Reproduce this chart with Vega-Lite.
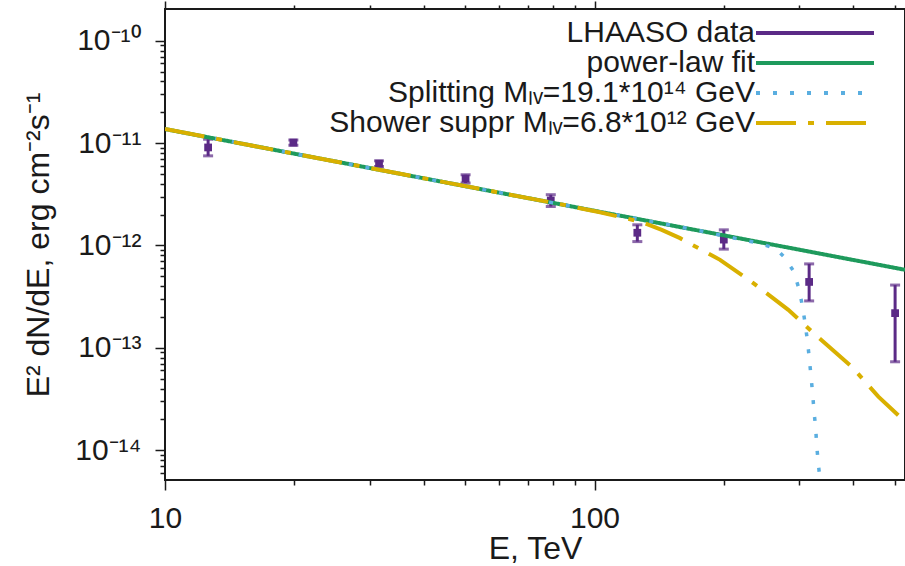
{
  "$schema": "https://vega.github.io/schema/vega-lite/v6.json",
  "width": 740,
  "height": 471,
  "autosize": "none",
  "padding": {"left": 165, "top": 9, "right": 0, "bottom": 86},
  "background": "white",
  "config": {
    "view": {"stroke": "#1a1a1a", "strokeWidth": 2},
    "font": "Liberation Sans",
    "axis": {
      "labelFont": "Liberation Sans",
      "titleFont": "Liberation Sans",
      "labelColor": "#1a1a1a",
      "titleColor": "#1a1a1a",
      "tickColor": "#1a1a1a",
      "domainColor": "#1a1a1a",
      "domainWidth": 2,
      "tickWidth": 1.5,
      "grid": false,
      "labelFontSize": 30,
      "titleFontSize": 32,
      "titleFontWeight": "normal"
    }
  },
  "datasets": {
    "lhaaso": [
      {"series": "LHAASO data", "E": 12.6, "flux": 9.06e-12, "lo": 7.5e-12, "hi": 1.09e-11},
      {"series": "LHAASO data", "E": 19.9, "flux": 1.01e-11, "lo": 9.5e-12, "hi": 1.07e-11},
      {"series": "LHAASO data", "E": 31.5, "flux": 6.3e-12, "lo": 5.9e-12, "hi": 6.7e-12},
      {"series": "LHAASO data", "E": 50.1, "flux": 4.5e-12, "lo": 4.07e-12, "hi": 4.9e-12},
      {"series": "LHAASO data", "E": 79.1, "flux": 2.75e-12, "lo": 2.4e-12, "hi": 3.13e-12},
      {"series": "LHAASO data", "E": 125.8, "flux": 1.33e-12, "lo": 1.09e-12, "hi": 1.59e-12},
      {"series": "LHAASO data", "E": 200, "flux": 1.14e-12, "lo": 9.2e-13, "hi": 1.42e-12},
      {"series": "LHAASO data", "E": 316, "flux": 4.4e-13, "lo": 2.87e-13, "hi": 6.6e-13},
      {"series": "LHAASO data", "E": 501, "flux": 2.18e-13, "lo": 7.3e-14, "hi": 4.1e-13}
    ],
    "curves": [
      {"series": "power-law fit", "E": 10, "flux": 1.37e-11},
      {"series": "power-law fit", "E": 100, "flux": 2.18e-12},
      {"series": "power-law fit", "E": 528.3, "flux": 5.78e-13},
      {"series": "Splitting Mₗᵥ=19.1*10¹⁴ GeV", "E": 10, "flux": 1.37e-11},
      {"series": "Splitting Mₗᵥ=19.1*10¹⁴ GeV", "E": 176, "flux": 1.39e-12},
      {"series": "Splitting Mₗᵥ=19.1*10¹⁴ GeV", "E": 218.2, "flux": 1.147e-12},
      {"series": "Splitting Mₗᵥ=19.1*10¹⁴ GeV", "E": 242.9, "flux": 1.048e-12},
      {"series": "Splitting Mₗᵥ=19.1*10¹⁴ GeV", "E": 264.6, "flux": 9.26e-13},
      {"series": "Splitting Mₗᵥ=19.1*10¹⁴ GeV", "E": 276.2, "flux": 7.74e-13},
      {"series": "Splitting Mₗᵥ=19.1*10¹⁴ GeV", "E": 290.4, "flux": 5.65e-13},
      {"series": "Splitting Mₗᵥ=19.1*10¹⁴ GeV", "E": 299.3, "flux": 3.77e-13},
      {"series": "Splitting Mₗᵥ=19.1*10¹⁴ GeV", "E": 305.0, "flux": 2.53e-13},
      {"series": "Splitting Mₗᵥ=19.1*10¹⁴ GeV", "E": 309.2, "flux": 1.74e-13},
      {"series": "Splitting Mₗᵥ=19.1*10¹⁴ GeV", "E": 313.3, "flux": 1.15e-13},
      {"series": "Splitting Mₗᵥ=19.1*10¹⁴ GeV", "E": 316.3, "flux": 7.87e-14},
      {"series": "Splitting Mₗᵥ=19.1*10¹⁴ GeV", "E": 319.2, "flux": 5.25e-14},
      {"series": "Splitting Mₗᵥ=19.1*10¹⁴ GeV", "E": 322.1, "flux": 3.52e-14},
      {"series": "Splitting Mₗᵥ=19.1*10¹⁴ GeV", "E": 324.4, "flux": 2.38e-14},
      {"series": "Splitting Mₗᵥ=19.1*10¹⁴ GeV", "E": 327.3, "flux": 1.64e-14},
      {"series": "Splitting Mₗᵥ=19.1*10¹⁴ GeV", "E": 329.1, "flux": 1.107e-14},
      {"series": "Splitting Mₗᵥ=19.1*10¹⁴ GeV", "E": 331.9, "flux": 7.45e-15},
      {"series": "Splitting Mₗᵥ=19.1*10¹⁴ GeV", "E": 335.0, "flux": 5.11e-15},
      {"series": "Splitting Mₗᵥ=19.1*10¹⁴ GeV", "E": 337.7, "flux": 3.26e-15},
      {"series": "Shower suppr Mₗᵥ=6.8*10¹² GeV", "E": 10, "flux": 1.37e-11},
      {"series": "Shower suppr Mₗᵥ=6.8*10¹² GeV", "E": 83.1, "flux": 2.53e-12},
      {"series": "Shower suppr Mₗᵥ=6.8*10¹² GeV", "E": 103.0, "flux": 2.11e-12},
      {"series": "Shower suppr Mₗᵥ=6.8*10¹² GeV", "E": 127.6, "flux": 1.71e-12},
      {"series": "Shower suppr Mₗᵥ=6.8*10¹² GeV", "E": 143.4, "flux": 1.42e-12},
      {"series": "Shower suppr Mₗᵥ=6.8*10¹² GeV", "E": 158.2, "flux": 1.178e-12},
      {"series": "Shower suppr Mₗᵥ=6.8*10¹² GeV", "E": 196.0, "flux": 7.23e-13},
      {"series": "Shower suppr Mₗᵥ=6.8*10¹² GeV", "E": 234.3, "flux": 4.28e-13},
      {"series": "Shower suppr Mₗᵥ=6.8*10¹² GeV", "E": 282.6, "flux": 2.35e-13},
      {"series": "Shower suppr Mₗᵥ=6.8*10¹² GeV", "E": 330.2, "flux": 1.287e-13},
      {"series": "Shower suppr Mₗᵥ=6.8*10¹² GeV", "E": 397.0, "flux": 6.55e-14},
      {"series": "Shower suppr Mₗᵥ=6.8*10¹² GeV", "E": 458.0, "flux": 3.33e-14},
      {"series": "Shower suppr Mₗᵥ=6.8*10¹² GeV", "E": 528.3, "flux": 1.9e-14}
    ]
  },
  "resolve": {"axis": {"x": "independent", "y": "independent"}},
  "layer": [
    {
      "data": {"name": "lhaaso"},
      "mark": {"type": "rule", "strokeWidth": 3},
      "encoding": {
        "x": {
          "field": "E", "type": "quantitative",
          "scale": {"type": "log", "domain": [10, 528.3], "nice": false},
          "title": "E, TeV",
          "axis": {
            "orient": "bottom",
            "values": [10, 20, 30, 40, 50, 60, 70, 80, 90, 100, 200, 300, 400, 500],
            "labelExpr": "datum.value == 10 ? '10' : datum.value == 100 ? '100' : ''",
            "labelFlush": false,
            "labelOverlap": false,
            "tickSize": {"condition": {"test": "datum.value == 10 || datum.value == 100", "value": 10}, "value": 5},
            "labelPadding": 13,
            "titlePadding": 0,
            "domain": false
          }
        },
        "y": {
          "field": "lo", "type": "quantitative",
          "scale": {"type": "log", "domain": [5.11e-15, 2.04e-10], "nice": false},
          "title": "E² dN/dE, erg cm⁻²s⁻¹",
          "axis": {
            "orient": "left",
            "values": [1e-10, 9e-11, 8e-11, 7e-11, 6e-11, 5e-11, 4e-11, 3e-11, 2e-11, 1e-11, 9e-12, 8e-12, 7e-12, 6e-12, 5e-12, 4e-12, 3e-12, 2e-12, 1e-12, 9e-13, 8e-13, 7e-13, 6e-13, 5e-13, 4e-13, 3e-13, 2e-13, 1e-13, 9e-14, 8e-14, 7e-14, 6e-14, 5e-14, 4e-14, 3e-14, 2e-14, 1e-14, 9e-15, 8e-15, 7e-15, 6e-15],
            "labelExpr": "datum.value > 9.9e-11 && datum.value < 1.1e-10 ? '10⁻¹⁰' : datum.value > 9.9e-12 && datum.value < 1.1e-11 ? '10⁻¹¹' : datum.value > 9.9e-13 && datum.value < 1.1e-12 ? '10⁻¹²' : datum.value > 9.9e-14 && datum.value < 1.1e-13 ? '10⁻¹³' : datum.value > 9.9e-15 && datum.value < 1.1e-14 ? '10⁻¹⁴' : ''",
            "labelOverlap": false,
            "tickSize": {"condition": {"test": "abs(log(datum.value)/LN10 - round(log(datum.value)/LN10)) < 0.001", "value": 10}, "value": 5},
            "labelPadding": 14,
            "titlePadding": 19,
            "domain": false
          }
        },
        "y2": {"field": "hi"},
        "color": {
          "field": "series", "type": "nominal",
          "scale": {
            "domain": ["LHAASO data", "power-law fit", "Splitting Mₗᵥ=19.1*10¹⁴ GeV", "Shower suppr Mₗᵥ=6.8*10¹² GeV"],
            "range": ["#5b2a86", "#1e9a5c", "#5aaee0", "#d9b000"]
          },
          "legend": {
            "orient": "none",
            "legendX": 635,
            "legendY": 9,
            "title": null,
            "symbolType": "M-5.9,0H5.9",
            "symbolSize": 400,
            "symbolStrokeWidth": 4,
            "labelFontSize": 30,
            "labelFont": "Liberation Sans",
            "labelColor": "#1a1a1a",
            "labelAlign": "right",
            "labelOffset": -75,
            "labelLimit": 700,
            "rowPadding": 0,
            "padding": 0
          }
        }
      }
    },
    {
      "data": {"name": "lhaaso"},
      "mark": {"type": "tick", "orient": "horizontal", "size": 10, "thickness": 3, "color": "#5b2a86"},
      "encoding": {
        "x": {"field": "E", "type": "quantitative", "scale": {"type": "log"}, "axis": null},
        "y": {"field": "lo", "type": "quantitative", "scale": {"type": "log"}, "axis": null}
      }
    },
    {
      "data": {"name": "lhaaso"},
      "mark": {"type": "tick", "orient": "horizontal", "size": 10, "thickness": 3, "color": "#5b2a86"},
      "encoding": {
        "x": {"field": "E", "type": "quantitative", "scale": {"type": "log"}, "axis": null},
        "y": {"field": "hi", "type": "quantitative", "scale": {"type": "log"}, "axis": null}
      }
    },
    {
      "data": {"name": "lhaaso"},
      "mark": {"type": "point", "shape": "square", "filled": true, "size": 60, "opacity": 1, "color": "#5b2a86"},
      "encoding": {
        "x": {
          "field": "E", "type": "quantitative", "scale": {"type": "log"},
          "axis": {
            "orient": "top",
            "values": [10, 20, 30, 40, 50, 60, 70, 80, 90, 100, 200, 300, 400, 500],
            "labels": false, "title": null, "domain": false,
            "tickSize": {"condition": {"test": "datum.value == 10 || datum.value == 100", "value": 8}, "value": 4}
          }
        },
        "y": {"field": "flux", "type": "quantitative", "scale": {"type": "log"}, "axis": null}
      }
    },
    {
      "data": {"name": "curves"},
      "transform": [{"filter": "datum.series == 'power-law fit'"}],
      "mark": {"type": "line", "strokeWidth": 4, "clip": true},
      "encoding": {
        "x": {"field": "E", "type": "quantitative", "scale": {"type": "log"}, "axis": null},
        "y": {"field": "flux", "type": "quantitative", "scale": {"type": "log"}, "axis": null},
        "color": {"field": "series", "type": "nominal"},
        "strokeDash": {
          "field": "series", "type": "nominal",
          "scale": {
            "domain": ["LHAASO data", "power-law fit", "Splitting Mₗᵥ=19.1*10¹⁴ GeV", "Shower suppr Mₗᵥ=6.8*10¹² GeV"],
            "range": [[1, 0], [1, 0], [4, 13], [40, 12, 6, 12]]
          }
        }
      }
    },
    {
      "data": {"name": "curves"},
      "transform": [{"filter": "datum.series == 'Splitting Mₗᵥ=19.1*10¹⁴ GeV'"}],
      "mark": {"type": "line", "strokeWidth": 3.5, "clip": true},
      "encoding": {
        "x": {"field": "E", "type": "quantitative", "scale": {"type": "log"}, "axis": null},
        "y": {"field": "flux", "type": "quantitative", "scale": {"type": "log"}, "axis": null},
        "color": {"field": "series", "type": "nominal"},
        "strokeDash": {"field": "series", "type": "nominal"}
      }
    },
    {
      "data": {"name": "curves"},
      "transform": [{"filter": "datum.series == 'Shower suppr Mₗᵥ=6.8*10¹² GeV'"}],
      "mark": {"type": "line", "strokeWidth": 4, "clip": true},
      "encoding": {
        "x": {"field": "E", "type": "quantitative", "scale": {"type": "log"}, "axis": null},
        "y": {"field": "flux", "type": "quantitative", "scale": {"type": "log"}, "axis": null},
        "color": {"field": "series", "type": "nominal"},
        "strokeDash": {"field": "series", "type": "nominal"}
      }
    }
  ]
}
